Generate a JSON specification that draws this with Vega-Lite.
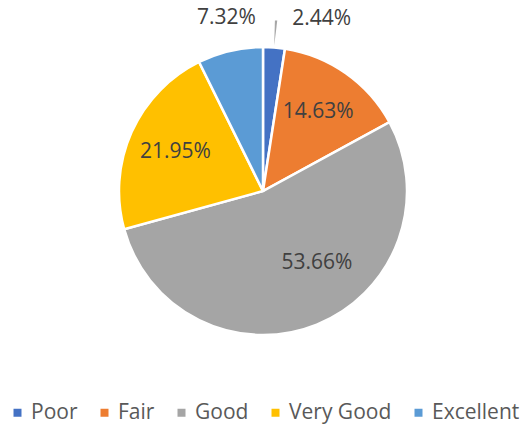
{
  "$schema": "https://vega.github.io/schema/vega-lite/v6.json",
  "width": 526,
  "height": 382,
  "autosize": {"type": "none"},
  "padding": {"left": 0, "top": 0, "right": 0, "bottom": 44},
  "background": "white",
  "config": {"view": {"stroke": null}, "font": "Open Sans"},
  "data": {
    "values": [
      {"category": "Poor", "order": 1, "value": 2.44, "label": "2.44%"},
      {"category": "Fair", "order": 2, "value": 14.63, "label": "14.63%"},
      {"category": "Good", "order": 3, "value": 53.66, "label": "53.66%"},
      {"category": "Very Good", "order": 4, "value": 21.95, "label": "21.95%"},
      {"category": "Excellent", "order": 5, "value": 7.32, "label": "7.32%"}
    ]
  },
  "encoding": {
    "theta": {"field": "value", "type": "quantitative", "stack": true},
    "order": {"field": "order", "type": "quantitative"}
  },
  "layer": [
    {
      "mark": {"type": "arc", "outerRadius": 144, "stroke": "white", "strokeWidth": 2.5},
      "encoding": {
        "color": {
          "field": "category",
          "type": "nominal",
          "sort": ["Poor", "Fair", "Good", "Very Good", "Excellent"],
          "scale": {
            "domain": ["Poor", "Fair", "Good", "Very Good", "Excellent"],
            "range": ["#4472C4", "#ED7D31", "#A5A5A5", "#FFC000", "#5B9BD5"]
          },
          "legend": {
            "title": null,
            "orient": "none",
            "legendX": 7,
            "legendY": 402,
            "direction": "horizontal",
            "symbolType": "square",
            "symbolSize": 64,
            "symbolStrokeWidth": 0,
            "labelFont": "Open Sans",
            "labelFontSize": 21,
            "labelColor": "#595959",
            "labelOffset": 3,
            "columnPadding": 16
          }
        }
      }
    },
    {
      "mark": {"type": "arc", "outerRadius": 171, "innerRadius": 146, "padAngle": 0.106, "fill": "#A6A6A6", "stroke": null},
      "encoding": {
        "opacity": {"condition": {"test": "datum.category === 'Poor'", "value": 1}, "value": 0}
      }
    },
    {
      "mark": {"type": "text", "radius": 96, "font": "Open Sans", "fontSize": 21, "fill": "#404040"},
      "encoding": {
        "text": {"field": "label"},
        "opacity": {"condition": {"test": "datum.category === 'Fair' || datum.category === 'Very Good'", "value": 1}, "value": 0}
      }
    },
    {
      "mark": {"type": "text", "radius": 96, "dx": 18, "dy": -17, "font": "Open Sans", "fontSize": 21, "fill": "#404040"},
      "encoding": {
        "text": {"field": "label"},
        "opacity": {"condition": {"test": "datum.category === 'Good'", "value": 1}, "value": 0}
      }
    },
    {
      "mark": {"type": "text", "radius": 178, "dx": 4, "font": "Open Sans", "fontSize": 21, "fill": "#404040"},
      "encoding": {
        "text": {"field": "label"},
        "opacity": {"condition": {"test": "datum.category === 'Excellent'", "value": 1}, "value": 0}
      }
    },
    {
      "mark": {"type": "text", "radius": 178, "dx": 45, "dy": 5, "font": "Open Sans", "fontSize": 21, "fill": "#404040"},
      "encoding": {
        "text": {"field": "label"},
        "opacity": {"condition": {"test": "datum.category === 'Poor'", "value": 1}, "value": 0}
      }
    }
  ]
}
